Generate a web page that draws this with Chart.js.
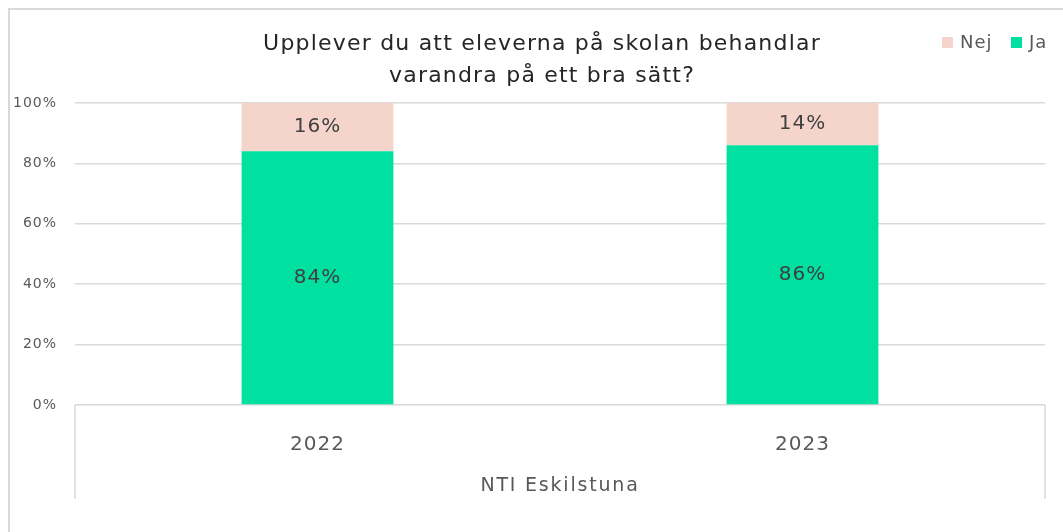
<!DOCTYPE html>
<html>
<head>
<meta charset="utf-8">
<script src="https://cdn.jsdelivr.net/npm/chart.js@4"></script>
<style>
  html, body { margin: 0; padding: 0; background: #fff; }
  #wrap { width: 1063px; height: 532px; position: relative; }
</style>
</head>
<body>
<div id="wrap"><canvas id="stage"></canvas></div>
<script>
// データ
const years = ['2022', '2023'];
const jaValues = [84, 86];
const nejValues = [16, 14];
const yTicks = [0, 20, 40, 60, 80, 100];
const titleLines = ['Upplever du att eleverna på skolan behandlar', 'varandra på ett bra sätt?'];
const groupLabel = 'NTI Eskilstuna';

const FONT = '"DejaVu Sans", sans-serif';
const JA_COLOR = '#00E0A0';
const NEJ_COLOR = '#F5D5CB';
const LINE = '#D9D9D9';

// 字間を少し広げる (Century Gothic 風に)
const spacingPlugin = {
    id: 'spacing',
    beforeDraw(chart) { chart.ctx.letterSpacing = '1px'; }
};

// 枠線・タイトル・凡例・データラベル
const decorPlugin = {
    id: 'decor',
    afterDraw(chart) {
        const ctx = chart.ctx;
        const area = chart.chartArea;
        ctx.save();

        // 外枠
        ctx.strokeStyle = LINE;
        ctx.lineWidth = 2;
        ctx.beginPath();
        ctx.moveTo(9, 532);
        ctx.lineTo(9, 9);
        ctx.lineTo(1063, 9);
        ctx.stroke();

        // x軸の箱
        ctx.lineWidth = 1.5;
        ctx.beginPath();
        ctx.moveTo(area.left, area.bottom);
        ctx.lineTo(area.left, 499);
        ctx.moveTo(area.right, area.bottom);
        ctx.lineTo(area.right, 499);
        ctx.stroke();

        // タイトル
        ctx.fillStyle = '#262626';
        ctx.font = '22px ' + FONT;
        ctx.letterSpacing = '1.2px';
        ctx.textAlign = 'center';
        ctx.textBaseline = 'middle';
        titleLines.forEach((t, i) => ctx.fillText(t, 542, 44 + i * 32));

        // 凡例 (Nej, Ja)
        const items = [[NEJ_COLOR, 'Nej', 942], [JA_COLOR, 'Ja', 1011]];
        ctx.font = '18px ' + FONT;
        ctx.letterSpacing = '1px';
        ctx.textAlign = 'left';
        for (const [c, label, x] of items) {
            ctx.fillStyle = c;
            ctx.fillRect(x, 37, 11, 11);
            ctx.fillStyle = '#595959';
            ctx.fillText(label, x + 18, 43);
        }

        // 系列グループ名
        ctx.font = '19px ' + FONT;
        ctx.letterSpacing = '1.8px';
        ctx.textAlign = 'center';
        ctx.fillText(groupLabel, (area.left + area.right) / 2, 486);

        // データラベル
        ctx.font = '20px ' + FONT;
        ctx.letterSpacing = '1px';
        ctx.fillStyle = '#404040';
        chart.data.datasets.forEach((ds, di) => {
            const meta = chart.getDatasetMeta(di);
            meta.data.forEach((bar, i) => {
                const mid = (bar.y + bar.base) / 2;
                ctx.fillText(ds.data[i] + '%', bar.x, mid);
            });
        });
        ctx.restore();
    }
};

const chartData = {
    labels: years,
    datasets: [
        { label: 'Ja', data: jaValues, backgroundColor: JA_COLOR, barPercentage: 0.626, categoryPercentage: 0.5 },
        { label: 'Nej', data: nejValues, backgroundColor: NEJ_COLOR, barPercentage: 0.626, categoryPercentage: 0.5 }
    ]
};

const myChartOption = {
    responsive: true,
    maintainAspectRatio: false,
    animation: false,
    layout: { padding: { left: 0, right: 18, top: 103, bottom: 0 } },
    plugins: {
        legend: { display: false },
        title: { display: false },
        tooltip: { enabled: false }
    },
    scales: {
        x: {
            stacked: true,
            grid: { display: false },
            border: { display: false },
            ticks: { color: '#595959', font: { family: FONT, size: 20 }, padding: 20 },
            afterFit(scale) { scale.height = 127; }
        },
        y: {
            stacked: true,
            min: 0,
            max: 100,
            afterBuildTicks(scale) { scale.ticks = yTicks.map(v => ({ value: v })); },
            grid: { color: LINE, lineWidth: 1.5, drawTicks: false },
            border: { display: false },
            ticks: {
                color: '#595959',
                font: { family: FONT, size: 14 },
                padding: 18,
                callback: v => v + '%'
            },
            afterFit(scale) { scale.width = 75; }
        }
    }
};

new Chart(document.getElementById('stage'), {
    type: 'bar',
    data: chartData,
    options: myChartOption,
    plugins: [spacingPlugin, decorPlugin]
});
</script>
</body>
</html>
